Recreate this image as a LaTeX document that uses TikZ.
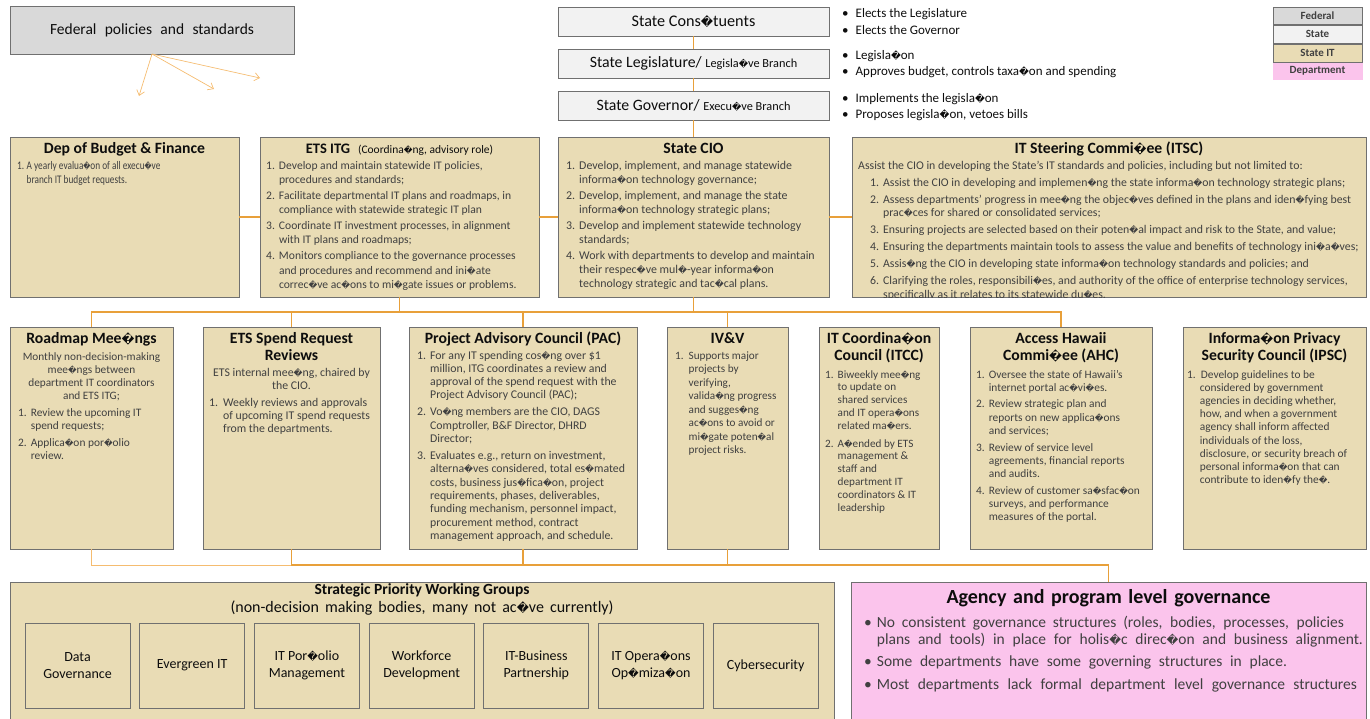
\documentclass[tikz,border=0pt]{standalone}
\usepackage{fontspec}
\usepackage{graphicx}
\setmainfont{Carlito}
\newfontfamily\dvsym{DejaVu Sans}[Scale=0.74]
\usetikzlibrary{arrows.meta}
% replacement glyph printed where a ligature was lost
\newcommand\rpl{{\dvsym\char"FFFD}}
% numbered list with hanging lines, centred line stack, spread-out line
\newcommand\lst[2][4pt]{\begin{tabular}[t]{@{}l@{\hspace{#1}}l@{}}#2\end{tabular}}
\newcommand\ctr[1]{\begin{tabular}[t]{@{}c@{}}#1\end{tabular}}
\newcommand\spread[2]{\makebox[#1][s]{#2}}
\newcommand\fs[2]{\fontsize{#1}{#2}\selectfont}
\definecolor{itfill}{RGB}{233,220,181}
\definecolor{fedfill}{RGB}{217,217,217}
\definecolor{statefill}{RGB}{242,242,242}
\definecolor{deptfill}{RGB}{251,196,236}
\definecolor{boxline}{RGB}{112,112,112}
\definecolor{link}{RGB}{232,160,58}
\definecolor{linklt}{RGB}{245,188,112}
\definecolor{body}{RGB}{64,64,64}
\definecolor{ink}{RGB}{13,13,13}
\begin{document}
\begin{tikzpicture}[x=1pt,y=-1pt,
  box/.style={draw=boxline,line width=0.9pt,anchor=north west,inner sep=0pt,outer sep=0pt},
  itbox/.style={box,fill=itfill},
  stbox/.style={box,fill=statefill},
  conn/.style={draw=link,line width=1.1pt},
  connlt/.style={draw=linklt,line width=1pt},
  farrow/.style={draw=linklt,line width=0.7pt,-{Straight Barb[length=5pt,width=8pt]}},
  ttl/.style={inner sep=0pt,anchor=base,text=ink,font=\bfseries\fs{15.7}{17}},
  txt/.style={inner sep=0pt,anchor=base west,text=body,font=\fs{11.8}{13.3}},
  ctxt/.style={inner sep=0pt,anchor=base,text=body,font=\fs{11.8}{13.3}},
  lgd/.style={box,minimum width=89,font=\bfseries\fs{11}{12},text=body},
]
\useasboundingbox (0,0) rectangle (1370,718);

% ---------- federal level ----------
\node[box,fill=fedfill,minimum width=284,minimum height=48] (fed) at (10,6) {};
\node[inner sep=0pt,text=ink,font=\fs{15.5}{17}] (fedt) at (fed.center) {\spread{204pt}{Federal policies and standards}};
\coordinate (fa1) at (139,96);
\coordinate (fa2) at (214,89);
\coordinate (fa3) at (260,78);
\draw[farrow] (fed.south) -- (fa1);
\draw[farrow] (fed.south) -- (fa2);
\draw[farrow] (fed.south) -- (fa3);

% ---------- state level ----------
\node[stbox,minimum width=271,minimum height=29] (cons) at (558,7) {};
\node[inner sep=0pt,text=ink,font=\fs{16.2}{18}] (const) at (cons.center) {State Cons\rpl tuents};
\node[stbox,minimum width=271,minimum height=29] (leg) at (558,49) {};
\node[inner sep=0pt,text=ink,font=\fs{15.8}{18}] (legt) at (leg.center) {State Legislature/ {\fs{12.3}{14}Legisla\rpl ve Branch}};
\node[stbox,minimum width=271,minimum height=29] (gov) at (558,91) {};
\node[inner sep=0pt,text=ink,font=\fs{15.8}{18}] (govt) at (gov.center) {State Governor/ {\fs{12.3}{14}Execu\rpl ve Branch}};

\node[txt,text=ink,font=\fs{13}{17}] (bcons) at (842,17) {\lst[7pt]{\textbullet & Elects the Legislature\\ \textbullet & Elects the Governor}};
\node[txt,text=ink,font=\fs{13}{16}] (bleg) at (842,59) {\lst[7pt]{\textbullet & Legisla\rpl on\\ \textbullet & Approves budget, controls taxa\rpl on and spending}};
\node[txt,text=ink,font=\fs{13}{16}] (bgov) at (842,102) {\lst[7pt]{\textbullet & Implements the legisla\rpl on\\ \textbullet & Proposes legisla\rpl on, vetoes bills}};

% ---------- legend ----------
\node[lgd,fill=fedfill,minimum height=17] (lgfed) at (1273,7) {Federal};
\node[lgd,fill=statefill,minimum height=18] (lgst) at (1273,25) {State};
\node[lgd,fill=itfill,minimum height=18] (lgit) at (1273,44) {State IT};
\node[lgd,fill=deptfill,draw=deptfill,minimum height=16] (lgdp) at (1273,63) {Department};

% ---------- state IT, first row ----------
\node[itbox,minimum width=229,minimum height=160] (dbf) at (10,137) {};
\node[ttl] (dbft) at (dbf.north |- 0,153) {Dep of Budget \& Finance};
\node[txt,font=\fs{11.6}{14}] (dbfb) at (17,169) {\scalebox{0.8}[1]{\lst[3pt]{1.& A yearly evalua\rpl on of all execu\rpl ve\\ & branch IT budget requests.}}};

\node[itbox,minimum width=279,minimum height=160] (itg) at (260,137) {};
\node[ttl] (itgt) at (itg.north |- 0,153) {{\fs{14.5}{17}ETS ITG}\hspace{8pt}{\mdseries\fs{11.5}{13}(Coordina\rpl ng, advisory role)}};
\node[txt,font=\fs{11.6}{14.3}] (itgb) at (266,169) {\lst{1.& Develop and maintain statewide IT policies,\\ & procedures and standards;\\[1.7pt]
2.& Facilitate departmental IT plans and roadmaps, in\\ & compliance with statewide strategic IT plan\\[1.7pt]
3.& Coordinate IT investment processes, in alignment\\ & with IT plans and roadmaps;\\[1.7pt]
4.& Monitors compliance to the governance processes\\ & and procedures and recommend and ini\rpl ate\\ & correc\rpl ve ac\rpl ons to mi\rpl gate issues or problems.}};

\node[itbox,minimum width=271,minimum height=160] (cio) at (558,137) {};
\node[ttl] (ciot) at (cio.north |- 0,153) {State CIO};
\node[txt,font=\fs{11.9}{14}] (ciob) at (566,169) {\lst{1.& Develop, implement, and manage statewide\\ & informa\rpl on technology governance;\\[2pt]
2.& Develop, implement, and manage the state\\ & informa\rpl on technology strategic plans;\\[2pt]
3.& Develop and implement\ statewide technology\\ & standards;\\[2pt]
4.& Work with departments to develop and maintain\\ & their respec\rpl ve mul\rpl -year informa\rpl on\\ & technology strategic and tac\rpl cal plans.}};

\node[itbox,minimum width=514,minimum height=160] (itsc) at (852,137) {};
\node[ttl] (itsct) at (itsc.north |- 0,153) {IT Steering Commi\rpl ee (ITSC)};
\begin{scope}
\clip (itsc.north west) rectangle (itsc.south east);
\node[txt,font=\fs{11.8}{13.5}] (itsci) at (858,169) {Assist the CIO in developing the State’s IT standards and policies, including but not limited to:};
\node[txt,font=\fs{11.8}{13.5}] (itscb) at (870,186) {\lst{1.& Assist the CIO in developing and implemen\rpl ng the state informa\rpl on technology strategic plans;\\[3.5pt]
2.& Assess departments' progress in mee\rpl ng the objec\rpl ves defined in the plans and iden\rpl fying best\\ & prac\rpl ces for shared or consolidated services;\\[3.5pt]
3.& Ensuring projects are selected based on their poten\rpl al impact and risk to the State, and value;\\[3.5pt]
4.& Ensuring the departments maintain tools to assess the value and benefits of technology ini\rpl a\rpl ves;\\[3.5pt]
5.& Assis\rpl ng the CIO in developing state informa\rpl on technology standards and policies; and\\[3.5pt]
6.& Clarifying the roles, responsibili\rpl es, and authority of the office of enterprise technology services,\\ & specifically as it relates to its statewide du\rpl es.}};
\end{scope}

% links along the first row and from the state level
\draw[conn] (cons) -- (leg);
\draw[conn] (leg) -- (gov);
\draw[conn] (gov) -- (cio);
\draw[conn] (dbf) -- (itg);
\draw[conn] (itg) -- (cio);
\draw[conn] (cio) -- (itsc);

% ---------- state IT, second row ----------
\node[itbox,minimum width=163,minimum height=222] (rm) at (10,327) {};
\node[ttl] (rmt) at (rm.north |- 0,343) {Roadmap Mee\rpl ngs};
\node[ctxt,font=\fs{11.3}{13.3}] (rmc) at (rm.north |- 0,360) {\ctr{Monthly non-decision-making\\ mee\rpl ngs between\\ department IT coordinators\\ and ETS ITG;}};
\node[txt,font=\fs{11.4}{13}] (rmb) at (18,416) {\lst{1.& Review the upcoming IT\\ & spend requests;\\[4.5pt] 2.& Applica\rpl on por\rpl olio\\ & review.}};

\node[itbox,minimum width=177,minimum height=222] (sr) at (203,327) {};
\node[ttl] (srt) at (sr.north |- 0,343) {\ctr{ETS Spend Request\\ Reviews}};
\node[ctxt] (src) at (sr.north |- 0,376) {\ctr{ETS internal mee\rpl ng, chaired by\\ the CIO.}};
\node[txt] (srb) at (209,406) {\lst[5pt]{1.& Weekly reviews and approvals\\ & of upcoming IT spend requests\\ & from the departments.}};

\node[itbox,minimum width=228,minimum height=222] (pac) at (409,327) {};
\node[ttl] (pact) at (pac.north |- 0,343) {Project Advisory Council (PAC)};
\node[txt] (pacb) at (417,359) {\lst{1.& For any IT spending cos\rpl ng over \$1\\ & million, ITG coordinates a review and\\ & approval of the spend request with the\\ & Project Advisory Council (PAC);\\[3.7pt]
2.& Vo\rpl ng members are the CIO, DAGS\\ & Comptroller, B\&F Director, DHRD\\ & Director;\\[3.7pt]
3.& Evaluates e.g., return on investment,\\ & alterna\rpl ves considered, total es\rpl mated\\ & costs, business jus\rpl fica\rpl on, project\\ & requirements, phases, deliverables,\\ & funding mechanism, personnel impact,\\ & procurement method, contract\\ & management approach, and schedule.}};

\node[itbox,minimum width=121,minimum height=222] (ivv) at (667,327) {};
\node[ttl] (ivvt) at (ivv.north |- 0,343) {IV\&V};
\node[txt,font=\fs{11.2}{13.5}] (ivvb) at (675,359) {\lst[5pt]{1.& Supports major\\ & projects by\\ & verifying,\\ & valida\rpl ng progress\\ & and sugges\rpl ng\\ & ac\rpl ons to avoid or\\ & mi\rpl gate poten\rpl al\\ & project risks.}};

\node[itbox,minimum width=120,minimum height=222] (itcc) at (819,327) {};
\node[ttl] (itcct) at (itcc.north |- 0,343) {\ctr{IT Coordina\rpl on\\ Council (ITCC)}};
\node[txt,font=\fs{11.2}{12.8}] (itccb) at (825,378) {\lst{1.& Biweekly mee\rpl ng\\ & to update on\\ & shared services\\ & and IT opera\rpl ons\\ & related ma\rpl ers.\\[5pt]
2.& A\rpl ended by ETS\\ & management \&\\ & staff and\\ & department IT\\ & coordinators \& IT\\ & leadership}};

\node[itbox,minimum width=182,minimum height=222] (ahc) at (970,327) {};
\node[ttl] (ahct) at (ahc.north |- 0,343) {\ctr{Access Hawaii\\ Commi\rpl ee (AHC)}};
\node[txt,font=\fs{11.4}{13.2}] (ahcb) at (976,378) {\lst{1.& Oversee the state of Hawaii’s\\ & internet portal ac\rpl vi\rpl es.\\[3.5pt]
2.& Review strategic plan and\\ & reports on new applica\rpl ons\\ & and services;\\[3.5pt]
3.& Review of service level\\ & agreements, financial reports\\ & and audits.\\[3.5pt]
4.& Review of customer sa\rpl sfac\rpl on\\ & surveys, and performance\\ & measures of the portal.}};

\node[itbox,minimum width=183,minimum height=222] (ipsc) at (1183,327) {};
\node[ttl] (ipsct) at (ipsc.north |- 0,343) {\ctr{Informa\rpl on Privacy\\ Security Council (IPSC)}};
\node[txt,font=\fs{11.4}{13.2}] (ipscb) at (1187,378) {\lst{1.& \hspace{1pt}Develop guidelines to be\\ & considered by government\\ & agencies in deciding whether,\\ & how, and when a government\\ & agency shall inform affected\\ & individuals of the loss,\\ & disclosure, or security breach of\\ & personal informa\rpl on that can\\ & contribute to iden\rpl fy the\rpl .}};

% tree from ETS ITG and the CIO down to the second row
\coordinate (bus) at (0,312);
\draw[conn] (itg.south) -- (itg.south |- bus);
\draw[conn] (cio.south) -- (cio.south |- bus);
\draw[conn] (rm.north) -- (rm.north |- bus) -- (ahc.north |- bus) -- (ahc.north);
\draw[conn] (sr.north) -- (sr.north |- bus);
\draw[conn] (pac.north) -- (pac.north |- bus);
\draw[conn] (ivv.north) -- (ivv.north |- bus);

% ---------- working groups ----------
\node[itbox,minimum width=824,minimum height=137] (spwg) at (10,582) {};
\node[inner sep=0pt,anchor=base,text=ink,font=\bfseries\fs{15.5}{17}] (spwgt) at (spwg.north |- 0,594) {Strategic Priority Working Groups};
\node[inner sep=0pt,anchor=base,text=ink,font=\fs{16}{17}] (spwgs) at (spwg.north |- 0,612) {\spread{383pt}{(non-decision making bodies, many not ac\rpl ve currently)}};
\foreach \i/\t in {1/{Data\\ Governance},2/{Evergreen IT},3/{IT Por\rpl olio\\ Management},4/{Workforce\\ Development},5/{IT-Business\\ Partnership},6/{IT Opera\rpl ons\\ Op\rpl miza\rpl on},7/{Cybersecurity}}{
  \node[itbox,minimum width=105,minimum height=85] (wg\i) at ({25+(\i-1)*114.7},623) {};
  \node[inner sep=0pt,align=center,text=ink,font=\fs{14}{17.5}] (wgt\i) at (wg\i.center) {\t};
}

% ---------- department level ----------
\node[box,fill=deptfill,minimum width=515,minimum height=137] (agy) at (851,582) {};
\node[inner sep=0pt,anchor=base,text=ink,font=\bfseries\fs{20}{22}] (agyt) at (agy.north |- 0,603) {\spread{324pt}{Agency and program level governance}};
\node[txt,text=body,font=\fs{15.5}{17}] (agyb) at (864,627) {\lst[5pt]{\textbullet & \spread{467pt}{No consistent governance structures (roles, bodies, processes, policies}\\ & \spread{486pt}{plans and tools) in place for holis\rpl c direc\rpl on and business alignment.}\\[5.5pt]
\textbullet & \spread{410pt}{Some departments have some governing structures in place.}\\[5.5pt]
\textbullet & \spread{480pt}{Most departments lack formal department level governance structures}}};

% tree from the second row down to the bottom groups
\coordinate (bbus) at (0,565);
\draw[connlt] (rm.south) -- (rm.south |- bbus) -- (sr.south |- bbus);
\draw[conn] (sr.south) -- (sr.south |- bbus) -- (agy.north |- bbus) -- (agy.north);
\draw[conn] (pac.south) -- (pac.south |- bbus);
\draw[conn] (ivv.south) -- (ivv.south |- bbus);
\end{tikzpicture}
\end{document}
